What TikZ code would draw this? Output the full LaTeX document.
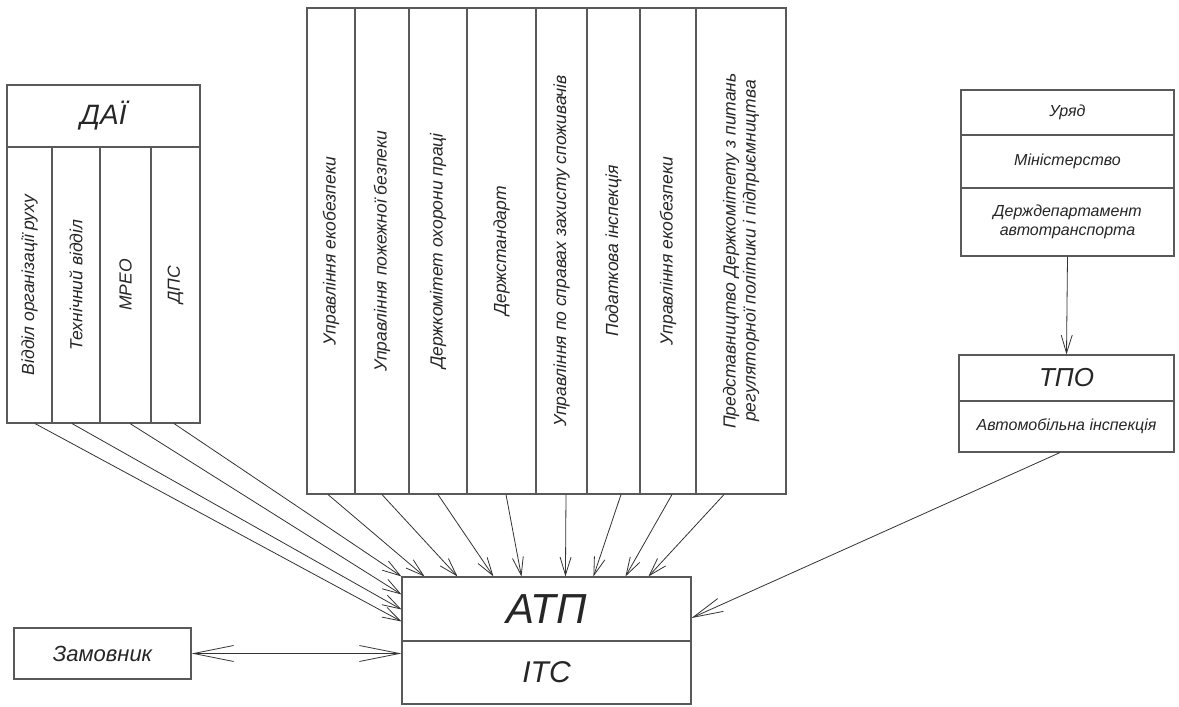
\documentclass[tikz,border=0pt]{standalone}
\usepackage{fontspec}
\setmainfont{Liberation Sans}
\usetikzlibrary{arrows.meta}

\begin{document}
\begin{tikzpicture}[
  x=1pt, y=-1pt,
  box/.style={draw=black!65, line width=1.1pt, inner sep=0pt, align=center,
    text=black!85, font=\itshape\fontsize{16}{19}\selectfont},
  col/.style={box, rotate=90, font=\itshape\fontsize{17.5}{20}\selectfont},
  link/.style={draw=black!80, line width=0.8pt,
    -{Straight Barb[length=18pt,width=11pt]}},
  both/.style={draw=black!80, line width=0.8pt,
    {Straight Barb[length=40pt,width=16pt]}-{Straight Barb[length=40pt,width=16pt]}},
]
  \path[use as bounding box, fill=white] (0,0) rectangle (1179,707);

  % ДАЇ
  \node[box, minimum width=193pt, minimum height=62pt,
    font=\itshape\fontsize{28}{30}\selectfont] (dai) at (103.5,116) {ДАЇ};
  \node[col, minimum width=276pt, minimum height=45pt] (dai1) at (29.5,285) {Відділ організації руху};
  \node[col, minimum width=276pt, minimum height=48pt] (dai2) at (76,285) {Технічний відділ};
  \node[col, minimum width=276pt, minimum height=51pt] (dai3) at (125.5,285) {МРЕО};
  \node[col, minimum width=276pt, minimum height=49pt] (dai4) at (175.5,285) {ДПС};

  % control bodies
  \node[col, minimum width=486pt, minimum height=48pt] (ctl1) at (331,251) {Управління екобезпеки};
  \node[col, minimum width=486pt, minimum height=54pt] (ctl2) at (382,251) {Управління пожежної безпеки};
  \node[col, minimum width=486pt, minimum height=58pt] (ctl3) at (438,251) {Держкомітет охорони праці};
  \node[col, minimum width=486pt, minimum height=69pt] (ctl4) at (501.5,251) {Держстандарт};
  \node[col, minimum width=486pt, minimum height=51pt] (ctl5) at (561.5,251) {Управління по справах захисту споживачів};
  \node[col, minimum width=486pt, minimum height=53pt] (ctl6) at (613.5,251) {Податкова інспекція};
  \node[col, minimum width=486pt, minimum height=56pt] (ctl7) at (668,251) {Управління екобезпеки};
  \node[col, minimum width=486pt, minimum height=90pt] (ctl8) at (741,251)
    {Представництво Держкомітету з питань\\регуляторної політики і підприємництва};

  % government
  \node[box, minimum width=213pt, minimum height=45pt] (gov) at (1067.5,112.5) {Уряд};
  \node[box, minimum width=213pt, minimum height=53pt] (min) at (1067.5,161.5) {Міністерство};
  \node[box, minimum width=213pt, minimum height=68pt] (dep) at (1067.5,222) {Держдепартамент\\автотранспорта};

  \node[box, minimum width=215pt, minimum height=46pt,
    font=\itshape\fontsize{26}{28}\selectfont] (tpo) at (1066.5,378) {ТПО};
  \node[box, minimum width=215pt, minimum height=51pt] (insp) at (1066.5,426.5) {Автомобільна інспекція};

  % enterprise
  \node[box, minimum width=289pt, minimum height=64pt,
    font=\itshape\fontsize{42}{44}\selectfont] (atp) at (546.5,609) {АТП};
  \node[box, minimum width=289pt, minimum height=63pt,
    font=\itshape\fontsize{30}{32}\selectfont] (itc) at (546.5,672.5) {ІТС};
  \node[box, minimum width=177pt, minimum height=51pt,
    font=\itshape\fontsize{22}{24}\selectfont] (zam) at (102.5,653.5) {Замовник};

  \draw[link] ([xshift=5.5pt]dai1.west) -- ([yshift=-45pt]atp.north west);
  \draw[link] ([xshift=-4pt]dai2.west) -- ([yshift=-33pt]atp.north west);
  \draw[link] ([xshift=4.5pt]dai3.west) -- ([yshift=-18pt]atp.north west);
  \draw[link] ([xshift=-1.5pt]dai4.west) -- (atp.north west);

  \draw[link] ([xshift=-3pt]ctl1.west) -- ([xshift=23pt]atp.north west);
  \draw[link] (ctl2.west) -- ([xshift=56pt]atp.north west);
  \draw[link] (ctl3.west) -- ([xshift=92pt]atp.north west);
  \draw[link] ([xshift=4.5pt]ctl4.west) -- ([xshift=120pt]atp.north west);
  \draw[link] ([xshift=4.5pt]ctl5.west) -- ([xshift=164pt]atp.north west);
  \draw[link] ([xshift=7.5pt]ctl6.west) -- ([xshift=192pt]atp.north west);
  \draw[link] ([xshift=4pt]ctl7.west) -- ([xshift=224pt]atp.north west);
  \draw[link] ([xshift=-17pt]ctl8.west) -- ([xshift=247pt]atp.north west);

  \draw[link] (dep.south) -- (tpo.north);
  \draw[link, -{Straight Barb[length=30pt,width=14pt]}] ([xshift=-6.5pt]insp.south) -- ([yshift=-9pt]atp.east);
  \draw[both] (zam.east) -- (zam.east -| itc.west);
\end{tikzpicture}
\end{document}
